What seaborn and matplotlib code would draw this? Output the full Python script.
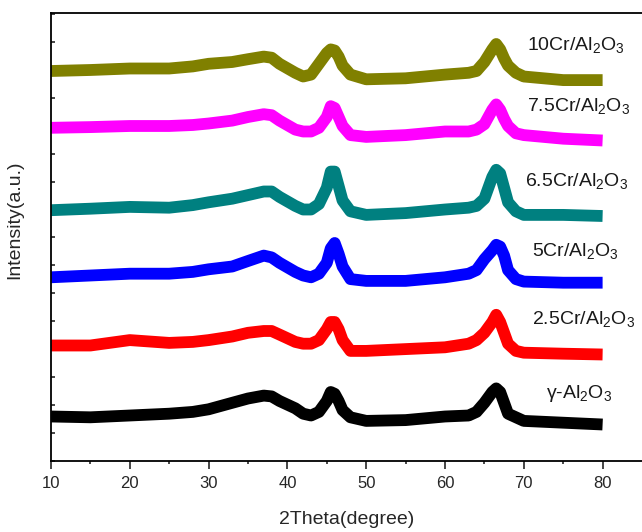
import matplotlib
matplotlib.use("Agg")
import matplotlib.pyplot as plt
import seaborn as sns
import pandas as pd
import numpy as np

# 2-theta positions (degree) where the curves were read
two_theta = [10, 15, 20, 25, 28, 30, 33, 35, 37, 38, 39, 41, 42, 43, 44, 45, 45.5, 46,
             46.5, 47, 48, 50, 55, 60, 63, 64, 65, 66, 66.5, 67, 67.5, 68, 69, 70, 75, 80]

# Intensities (a.u., stacked as in the figure)
i_10cr = [390, 391, 392.5, 392.5, 394.6, 397.2, 399, 401.8, 404.4, 403.3, 397.2, 388.2, 384.5,
          386.4, 397.2, 408, 411.6, 410.5, 404.4, 395.4, 386.4, 381.7, 382.7, 386.4, 388.2, 390,
          399, 411.6, 417, 411.6, 402.6, 395.4, 388.2, 384.5, 380.9, 380.9]
i_75cr = [333.2, 333.9, 335, 335, 336, 337.5, 340.4, 344, 346.8, 345.8, 340.4, 331.4, 329.5,
          329.5, 333.2, 344, 354.8, 353, 344, 335, 325.9, 324.1, 325.9, 329.5, 329.5, 331.4,
          336.8, 351.2, 356.6, 351.2, 342.2, 335, 327.7, 325.9, 322.3, 320.5]
i_65cr = [250.8, 252.3, 254.1, 253.3, 255.9, 258.7, 262.3, 265.9, 269.5, 269.5, 264.1, 255.1,
          251.5, 251.5, 256.9, 273.2, 289.4, 289.4, 275, 260.5, 249.7, 246.1, 247.9, 251.5,
          253.3, 255.1, 262.3, 284, 291.2, 287.6, 273.2, 258.7, 249.7, 246.1, 246.1, 245]
i_5cr = [183.7, 185.5, 187.3, 187.3, 189.1, 191.7, 194.5, 200, 205.4, 203.6, 198.2, 189.1,
         185.5, 183.7, 187.3, 198.2, 212.6, 218, 207.2, 194.5, 181.9, 180.1, 180.1, 183.7,
         187.3, 190.9, 201.8, 210.8, 216.2, 214.4, 205.4, 190.9, 181.9, 179.4, 178.3, 178.3]
i_25cr = [115.5, 115.5, 120.9, 118.1, 119.1, 120.9, 124.5, 128.2, 130, 130, 126.4, 119.1,
          117.3, 117.3, 120.9, 131.8, 139, 139, 131.8, 120.9, 110.1, 110.1, 111.9, 113.7,
          117.3, 120.9, 128.2, 139, 146.2, 139, 128.2, 117.3, 110.1, 108.3, 107.3, 106.5]
i_al2o3 = [44.5, 43.7, 45.5, 47.3, 49.1, 51.7, 58.2, 62.5, 65.4, 64.6, 60, 52.7, 47.3, 45.5,
           49.1, 60, 69, 67.2, 60, 50.9, 43.7, 40.1, 40.9, 44.5, 45.5, 49.1, 58.2, 69, 72.6,
           69, 58.2, 47.3, 43.7, 40.1, 38.3, 36.5]

samples = ["10Cr/Al$_2$O$_3$", "7.5Cr/Al$_2$O$_3$", "6.5Cr/Al$_2$O$_3$",
           "5Cr/Al$_2$O$_3$", "2.5Cr/Al$_2$O$_3$", "γ-Al$_2$O$_3$"]
series = [i_10cr, i_75cr, i_65cr, i_5cr, i_25cr, i_al2o3]
colors = ["#808000", "#FF00FF", "#008080", "#0000FF", "#FF0000", "#000000"]
label_x = [70.4, 70.4, 70.1, 71.0, 71.0, 72.8]
label_y = [411, 350, 275, 205, 137, 63]

sns.set_style("ticks")
plt.rcParams["font.family"] = ["Liberation Sans", "DejaVu Sans"]
plt.rcParams["mathtext.fontset"] = "custom"
plt.rcParams["mathtext.rm"] = "Liberation Sans"
plt.rcParams["mathtext.default"] = "regular"

df = pd.concat([pd.DataFrame({"2theta": two_theta, "intensity": s, "sample": n})
                for n, s in zip(samples, series)], ignore_index=True)

fig = plt.figure(figsize=(6.42, 5.32), dpi=100)
ax = fig.add_axes([51 / 642, 71 / 532, 1 - 51 / 642, 448 / 532])

sns.lineplot(data=df, x="2theta", y="intensity", hue="sample", palette=colors,
             hue_order=samples, estimator=None, linewidth=8.5, legend=False, ax=ax,
             solid_joinstyle="round", solid_capstyle="butt")

for n, c, tx, ty in zip(samples, colors, label_x, label_y):
    ax.text(tx, ty, n, fontsize=14, color="#1a1a1a", ha="left", va="baseline")

ax.set_xlim(10, 85)
ax.set_ylim(0, 448)
ax.set_xticks([10, 20, 30, 40, 50, 60, 70, 80])
ax.set_xticks([15, 25, 35, 45, 55, 65, 75], minor=True)
ax.set_yticks(np.arange(0, 448, 27.94))
ax.set_yticklabels([])
ax.tick_params(axis="x", which="major", direction="out", length=5.5, width=1.2,
               labelsize=12, pad=5)
ax.tick_params(axis="x", which="minor", direction="out", length=2.5, width=1.2)
ax.tick_params(axis="y", which="major", direction="in", length=3, width=1.2)
for side in ["left", "bottom", "top"]:
    ax.spines[side].set_linewidth(1.3)
    ax.spines[side].set_color("black")
ax.spines["right"].set_visible(False)

ax.set_xlabel("2Theta(degree)", fontsize=14, labelpad=15)
ax.set_ylabel("Intensity(a.u.)", fontsize=14)
ax.yaxis.set_label_coords(-0.047, 0.538)

fig.savefig("out.png", dpi=100)
